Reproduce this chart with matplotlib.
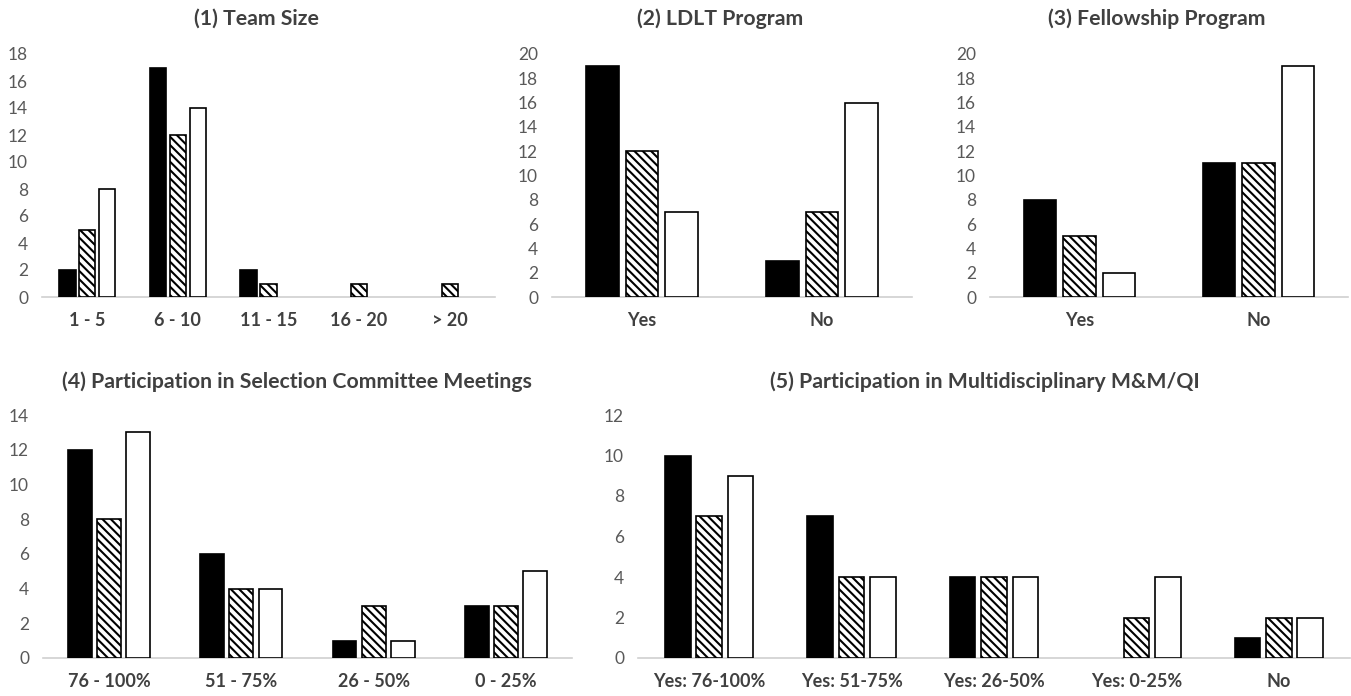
import matplotlib
matplotlib.use("Agg")
import matplotlib.pyplot as plt
import numpy as np

plt.rcParams["font.family"] = ["Lato", "DejaVu Sans"]
plt.rcParams["hatch.linewidth"] = 1.5

# (1) Team Size
team_cats = ["1 - 5", "6 - 10", "11 - 15", "16 - 20", "> 20"]
team_black = [2, 17, 2, 0, 0]
team_hatch = [5, 12, 1, 1, 1]
team_white = [8, 14, 0, 0, 0]

# (2) LDLT Program
ldlt_cats = ["Yes", "No"]
ldlt_black = [19, 3]
ldlt_hatch = [12, 7]
ldlt_white = [7, 16]

# (3) Fellowship Program
fellow_cats = ["Yes", "No"]
fellow_black = [8, 11]
fellow_hatch = [5, 11]
fellow_white = [2, 19]

# (4) Selection committee
sel_cats = ["76 - 100%", "51 - 75%", "26 - 50%", "0 - 25%"]
sel_black = [12, 6, 1, 3]
sel_hatch = [8, 4, 3, 3]
sel_white = [13, 4, 1, 5]

# (5) M&M/QI
mm_cats = ["Yes: 76-100%", "Yes: 51-75%", "Yes: 26-50%", "Yes: 0-25%", "No"]
mm_black = [10, 7, 4, 0, 1]
mm_hatch = [7, 4, 4, 2, 2]
mm_white = [9, 4, 4, 4, 2]

W, H = 1351, 696
fig = plt.figure(figsize=(W / 100, H / 100), dpi=100)


def add_axes(x0, x1, y_base, y_top):
    return fig.add_axes([x0 / W, 1 - y_base / H, (x1 - x0) / W, (y_base - y_top) / H])


def panel(ax, cats, black, hatch, white, ymax, step):
    x = np.arange(len(cats))
    w, off = 0.18, 0.22
    for vals, dx, fc, hp in [(black, -off, "black", None),
                             (hatch, 0, "white", "\\\\\\\\"),
                             (white, off, "white", None)]:
        lw = [1.2 if v > 0 else 0 for v in vals]
        ax.bar(x + dx, vals, w, color=fc, edgecolor="black", linewidth=lw,
               hatch=hp, zorder=3)
    ax.set_xlim(-0.5, len(cats) - 0.5)
    ax.set_ylim(0, ymax)
    ax.set_yticks(np.arange(0, ymax + 1, step))
    ax.set_xticks(x)
    ax.set_xticklabels(cats, fontweight="bold", color="#404040", fontsize=13)
    ax.tick_params(axis="y", length=0, pad=10, labelsize=12.5, labelcolor="#595959")
    ax.tick_params(axis="x", length=0, pad=11)
    for s in ["top", "right", "left"]:
        ax.spines[s].set_visible(False)
    ax.spines["bottom"].set_color("#d0d0d0")
    ax.spines["bottom"].set_linewidth(1.2)
    ax.spines["bottom"].set_zorder(2)


ax1 = add_axes(42, 495, 297, 54)
panel(ax1, team_cats, team_black, team_hatch, team_white, 18, 2)
ax2 = add_axes(552, 912, 297, 54)
panel(ax2, ldlt_cats, ldlt_black, ldlt_hatch, ldlt_white, 20, 2)
ax3 = add_axes(990, 1348, 297, 54)
panel(ax3, fellow_cats, fellow_black, fellow_hatch, fellow_white, 20, 2)
ax4 = add_axes(43, 572, 658, 415)
panel(ax4, sel_cats, sel_black, sel_hatch, sel_white, 14, 2)
ax5 = add_axes(638, 1350, 658, 415)
panel(ax5, mm_cats, mm_black, mm_hatch, mm_white, 12, 2)

title_kw = dict(fontweight="bold", color="#404040", fontsize=15.3, ha="center", va="center")
fig.text(256 / W, 1 - 19 / H, "(1) Team Size", **title_kw)
fig.text(720 / W, 1 - 19 / H, "(2) LDLT Program", **title_kw)
fig.text(1157 / W, 1 - 19 / H, "(3) Fellowship Program", **title_kw)
fig.text(297 / W, 1 - 382 / H, "(4) Participation in Selection Committee Meetings", **title_kw)
fig.text(985 / W, 1 - 382 / H, "(5) Participation in Multidisciplinary M&M/QI", **title_kw)

fig.savefig("out.png", dpi=100)
